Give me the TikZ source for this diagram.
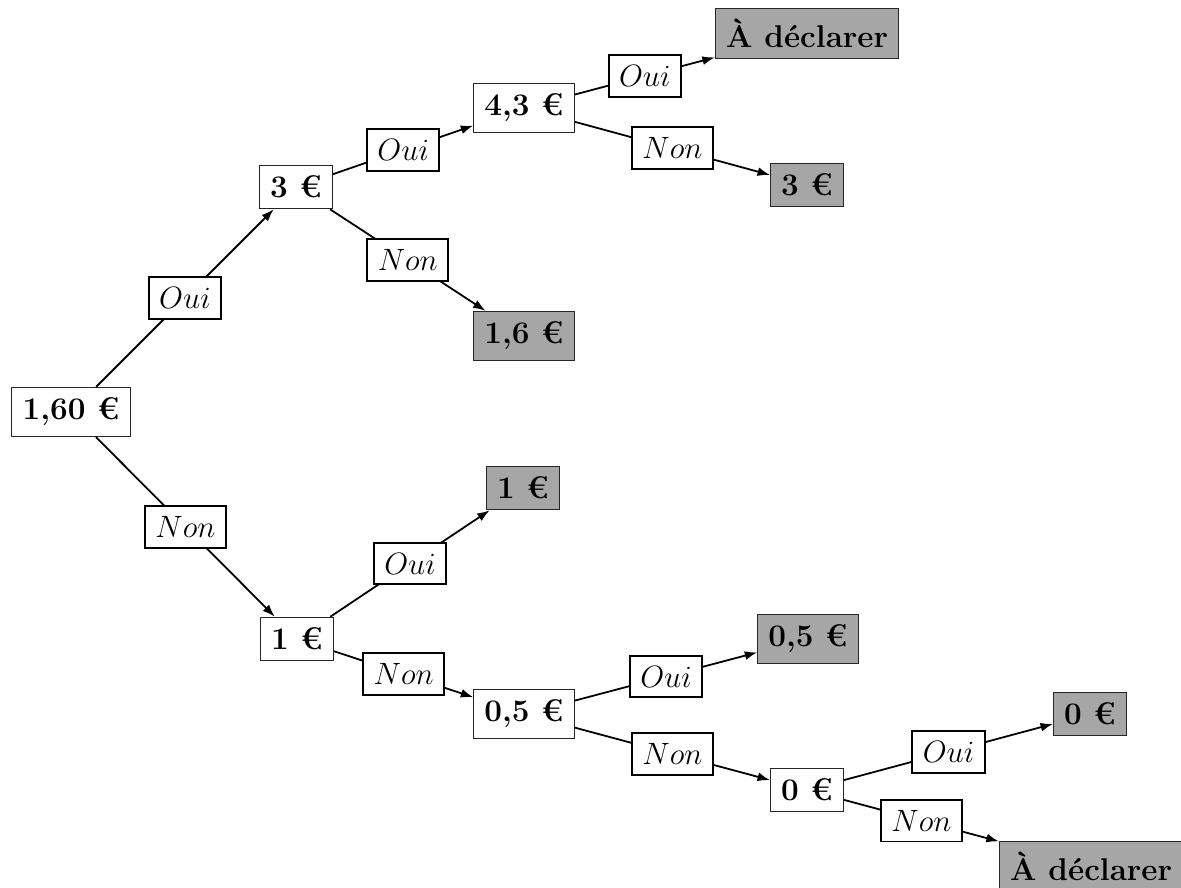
\documentclass[tikz,border=0pt]{standalone}
\usepackage{fontspec}
\usetikzlibrary{arrows.meta}
\begin{document}
\begin{tikzpicture}[x=0.56pt,y=-0.56pt,
  valbox/.style={draw=black!85,line width=0.45pt,fill=white,inner sep=6pt,font=\fontsize{17.6pt}{21pt}\selectfont\bfseries},
  leafbox/.style={valbox,fill=black!35},
  lab/.style={draw=black,line width=1.1pt,fill=white,inner sep=5.8pt,font=\fontsize{17.6pt}{21pt}\selectfont,midway},
  conn/.style={line width=1pt,-{Latex[length=7pt,width=5pt]}}]
\useasboundingbox (0,0) rectangle (1181,888);
\node[valbox]  (root)   at (71,412)  {1,60 €};
\node[valbox]  (n3)     at (296,187) {3 €};
\node[valbox]  (n43)    at (524,108) {4,3 €};
\node[leafbox] (decl1)  at (807,33)  {À déclarer};
\node[leafbox] (leaf3)  at (807,185) {3 €};
\node[leafbox] (leaf16) at (524,336) {1,6 €};
\node[valbox]  (n1)     at (297,639) {1 €};
\node[leafbox] (leaf1)  at (523,488) {1 €};
\node[valbox]  (n05)    at (524,714) {0,5 €};
\node[leafbox] (leaf05) at (808,639) {0,5 €};
\node[valbox]  (n0)     at (807,790) {0 €};
\node[leafbox] (leaf0)  at (1090,714) {0 €};
\node[leafbox] (decl2)  at (1091,866) {À déclarer};
\draw[conn] (root) -- node[lab] (l1) {$Oui$} (n3);
\draw[conn] (root) -- node[lab] (l2) {$Non$} (n1);
\draw[conn] (n3) -- node[lab] (l3) {$Oui$} (n43);
\draw[conn] (n3) -- node[lab] (l4) {$Non$} (leaf16);
\draw[conn] (n43) -- node[lab] (l5) {$Oui$} (decl1);
\draw[conn] (n43) -- node[lab] (l6) {$Non$} (leaf3);
\draw[conn] (n1) -- node[lab] (l7) {$Oui$} (leaf1);
\draw[conn] (n1) -- node[lab] (l8) {$Non$} (n05);
\draw[conn] (n05) -- node[lab] (l9) {$Oui$} (leaf05);
\draw[conn] (n05) -- node[lab] (l10) {$Non$} (n0);
\draw[conn] (n0) -- node[lab] (l11) {$Oui$} (leaf0);
\draw[conn] (n0) -- node[lab] (l12) {$Non$} (decl2);
\end{tikzpicture}
\end{document}
